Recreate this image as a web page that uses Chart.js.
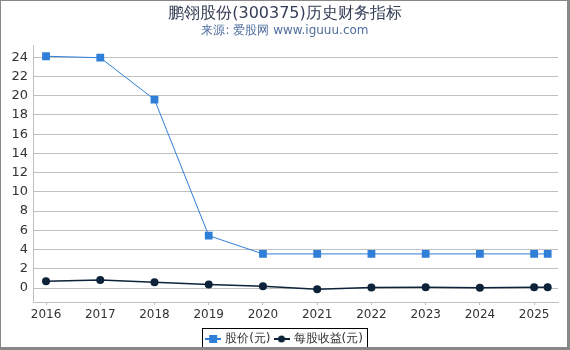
<!DOCTYPE html>
<html>
<head>
<meta charset="utf-8">
<script src="https://cdn.jsdelivr.net/npm/chart.js@4/dist/chart.umd.min.js"></script>
<style>
  html, body { margin: 0; padding: 0; background: #fff; }
  #wrap { width: 570px; height: 350px; }
</style>
</head>
<body>
<div id="wrap"><canvas id="c" width="570" height="350"></canvas></div>
<script>
// data
const years = [2016, 2017, 2018, 2019, 2020, 2021, 2022, 2023, 2024, 2025, 2025.25];
const price = [24.1, 23.95, 19.6, 5.45, 3.55, 3.55, 3.55, 3.55, 3.55, 3.55, 3.55];
const eps = [0.7, 0.85, 0.6, 0.38, 0.2, -0.12, 0.07, 0.08, 0.03, 0.08, 0.08];
const xTicks = [2016, 2017, 2018, 2019, 2020, 2021, 2022, 2023, 2024, 2025];
const yTicks = [0, 2, 4, 6, 8, 10, 12, 14, 16, 18, 20, 22, 24];

const FONT = "'DejaVu Sans', sans-serif";
const BLUE = '#2f7ed8';
const DARK = '#0d233a';

// little legend icons: line with the marker on it
function legendIcon(color, shape) {
  const cv = document.createElement('canvas');
  cv.width = 16; cv.height = 10;
  const g = cv.getContext('2d');
  g.strokeStyle = color; g.lineWidth = 2;
  g.beginPath(); g.moveTo(0, 5); g.lineTo(16, 5); g.stroke();
  g.fillStyle = color;
  if (shape === 'rect') g.fillRect(4, 1, 8, 8);
  else { g.beginPath(); g.arc(8, 5, 3.5, 0, Math.PI * 2); g.fill(); }
  return cv;
}

const framePlugin = {
  id: 'frame',
  afterDraw(chart) {
    const ctx = chart.ctx;
    ctx.save();
    // legend box
    const boxes = chart.legend.legendHitBoxes;
    if (boxes && boxes.length) {
      let l = Infinity, r = -Infinity, t = Infinity, b = -Infinity;
      boxes.forEach(h => {
        l = Math.min(l, h.left); r = Math.max(r, h.left + h.width);
        t = Math.min(t, h.top); b = Math.max(b, h.top + h.height);
      });
      ctx.strokeStyle = '#000';
      ctx.lineWidth = 1;
      ctx.strokeRect(Math.round(l) - 4.5, Math.round(t) - 4.5, Math.round(r - l) + 9, Math.round(b - t) + 9);
    }
    // outer frame
    ctx.fillStyle = '#888';
    ctx.fillRect(0, 0, 570, 1);
    ctx.fillRect(0, 0, 1, 350);
    ctx.fillRect(567, 0, 3, 350);
    ctx.fillRect(0, 347, 570, 3);
    ctx.restore();
  }
};

new Chart(document.getElementById('c'), {
  type: 'line',
  data: {
    datasets: [
      {
        label: '股价(元)',
        data: years.map((x, i) => ({ x, y: price[i] })),
        borderColor: BLUE,
        backgroundColor: BLUE,
        borderWidth: 1,
        pointStyle: 'rect',
        pointRadius: 5.5,
        pointBorderWidth: 0,
        tension: 0
      },
      {
        label: '每股收益(元)',
        data: years.map((x, i) => ({ x, y: eps[i] })),
        borderColor: DARK,
        backgroundColor: DARK,
        borderWidth: 1.5,
        pointStyle: 'circle',
        pointRadius: 4,
        pointBorderWidth: 0,
        tension: 0
      }
    ]
  },
  options: {
    responsive: false,
    animation: false,
    layout: { padding: { left: 12, right: 12, top: 0, bottom: -5 } },
    plugins: {
      title: {
        display: true,
        text: '鹏翎股份(300375)历史财务指标',
        color: '#333d55',
        font: { family: FONT, size: 16, weight: 'normal', lineHeight: 1.1 },
        padding: { top: 5, bottom: 0 }
      },
      subtitle: {
        display: true,
        text: '来源: 爱股网 www.iguuu.com',
        color: '#4d6e9e',
        font: { family: FONT, size: 12, lineHeight: 1.3 },
        padding: { top: 0, bottom: 7 }
      },
      legend: {
        position: 'bottom',
        labels: {
          usePointStyle: true,
          color: '#333',
          font: { family: FONT, size: 12 },
          padding: 5,
          generateLabels(chart) {
            return chart.data.datasets.map((ds, i) => ({
              text: ds.label,
              fillStyle: ds.backgroundColor,
              strokeStyle: ds.borderColor,
              pointStyle: legendIcon(ds.borderColor, ds.pointStyle),
              lineWidth: 0,
              hidden: false,
              datasetIndex: i,
              fontColor: '#333'
            }));
          }
        }
      },
      tooltip: { enabled: false }
    },
    scales: {
      x: {
        type: 'linear',
        min: 2015.76,
        max: 2025.44,
        afterBuildTicks(s) { s.ticks = xTicks.map(v => ({ value: v })); },
        afterFit(s) { s.height = 26; },
        ticks: {
          color: '#333',
          font: { family: FONT, size: 12 },
          padding: 3,
          maxRotation: 0,
          callback: v => String(v)
        },
        grid: { display: true, drawOnChartArea: false, tickLength: 3, color: '#c0c0c0' },
        border: { display: true, color: '#c0c0c0' }
      },
      y: {
        min: -1.45,
        max: 25.25,
        afterBuildTicks(s) { s.ticks = yTicks.map(v => ({ value: v })); },
        afterFit(s) { s.width = 21; },
        ticks: {
          color: '#333',
          font: { family: FONT, size: 13 },
          padding: 5
        },
        grid: { color: '#c0c0c0', drawTicks: false },
        border: { display: true, color: '#c0c0c0' }
      }
    }
  },
  plugins: [framePlugin]
});
</script>
</body>
</html>
